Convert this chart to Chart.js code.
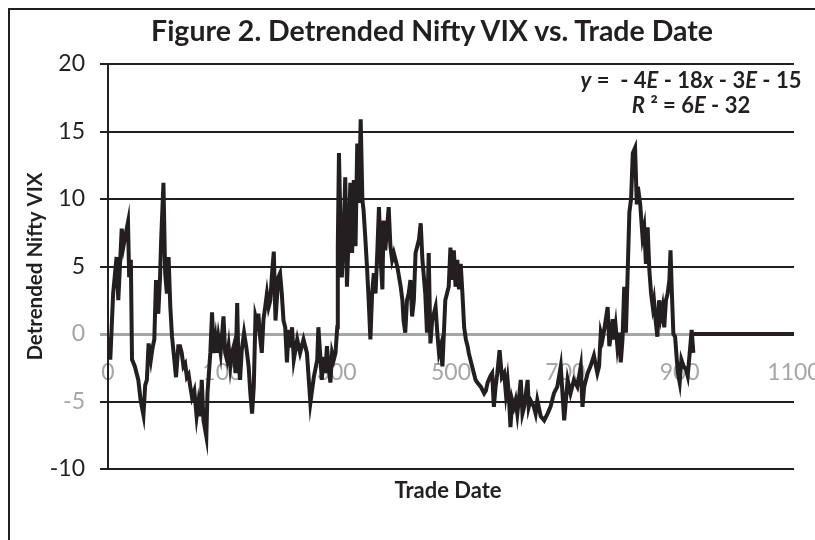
<!DOCTYPE html>
<html>
<head>
<meta charset="utf-8">
<script src="https://cdn.jsdelivr.net/npm/chart.js@4.4.0/dist/chart.umd.min.js"></script>
<style>
html, body { margin: 0; padding: 0; background: #fff; }
#wrap { position: relative; width: 815px; height: 540px; overflow: hidden; font-family: Lato, "Open Sans", sans-serif; color: #231f20; }
#frame { position: absolute; left: 8px; top: 8px; width: 900px; height: 700px; border: 2px solid #231f20; box-sizing: border-box; }
#c { position: absolute; left: 0; top: 0; }
.txt { position: absolute; white-space: nowrap; transform: translateX(-50%); font-weight: bold; }
#title { left: 432px; top: 13px; font-size: 28.5px; line-height: 34px; }
#eq1 { left: 691px; top: 67px; font-size: 22px; line-height: 26px; }
#eq2 { left: 691px; top: 92px; font-size: 22px; line-height: 26px; }
#xtitle { left: 448px; top: 477px; font-size: 22px; line-height: 26px; }
</style>
</head>
<body>
<div id="wrap">
  <div id="frame"></div>
  <canvas id="c" width="815" height="540"></canvas>
  <div class="txt" id="title">Figure 2. Detrended Nifty VIX vs. Trade Date</div>
  <div class="txt" id="eq1"><i>y</i> =&nbsp; - 4<i>E</i> - 18<i>x</i> - 3<i>E</i> - 15</div>
  <div class="txt" id="eq2"><i>R</i> ² = 6<i>E</i> - 32</div>
  <div class="txt" id="xtitle">Trade Date</div>
</div>
<script>
// trade date index (x) and detrended VIX (y)
const dayIdx = [0,4,9,15,18,24,27,30,35,37,40,42,47,53,57,62,65,68,71,75,78,81,84,88,91,93,97,100,103,106,109,112,116,119,123,126,129,132,135,138,141,144,147,151,155,158,161,164,167,172,174,179,182,185,188,190,193,197,202,205,208,211,214,217,220,223,226,228,231,234,238,242,246,249,252,255,258,261,263,266,269,272,275,278,281,284,287,290,293,296,298,301,304,307,310,313,316,319,322,325,331,336,342,348,354,360,366,368,371,374,377,380,383,386,389,392,395,398,401,402,404,407,409,412,415,418,421,424,427,430,433,436,439,442,445,447,450,453,456,459,462,465,468,471,474,477,480,482,485,488,491,494,497,500,506,512,515,517,520,523,526,529,532,535,538,541,544,547,550,552,555,558,561,564,567,570,573,576,579,582,585,588,590,593,596,599,602,605,608,611,614,617,620,623,626,629,631,634,637,640,643,646,652,658,661,664,669,672,675,678,681,685,689,693,696,699,701,704,707,710,713,716,719,722,725,728,734,736,739,745,748,751,757,763,769,774,780,786,792,798,804,809,815,821,827,830,833,839,844,850,856,859,862,865,868,874,877,880,883,885,888,891,894,897,900,903,906,909,912,915,918,922,925,927,931,935,938,941,944,947,950,953,955,958,961,964,967,970,973,976,979,982,984,986,989,992,995,997,1000,1003,1007,1011,1014,1018,1021,1024];
const vixVals = [-0.2,-1.9,3.0,5.7,2.5,7.8,6.5,7.2,8.3,4.2,5.5,-1.9,-2.4,-3.4,-4.9,-6.0,-3.8,-3.4,-0.7,-1.9,-1.0,-0.4,4.0,1.5,4.2,7.0,11.2,4.5,3.0,5.7,2.0,-0.2,-1.9,-3.2,-0.9,-0.9,-1.4,-2.4,-2.2,-3.2,-3.0,-3.9,-4.7,-4.2,-6.1,-5.1,-6.1,-3.4,-6.4,-7.6,-4.4,-1.4,1.6,-1.4,-0.4,-1.4,-0.2,-1.4,1.3,-1.4,-1.9,-0.9,-2.4,-1.4,-0.9,-2.9,2.3,-1.9,-3.4,-1.2,0.1,-1.0,-2.4,-4.4,-5.9,-3.9,1.3,0.8,1.5,-0.2,-1.4,1.1,2.0,3.0,2.0,2.5,4.5,6.1,1.0,3.0,4.2,4.5,3.0,1.0,0.5,-2.1,0.3,-1.0,0.5,-1.9,-0.4,-1.4,-0.4,-1.4,-5.1,-3.2,-1.9,0.5,-1.4,-3.4,-1.7,-2.9,-0.9,-2.4,-3.6,-1.4,-1.9,-1.4,0.5,6.5,13.4,7.5,4.2,7.0,11.6,3.5,7.4,11.2,6.0,11.4,6.5,14.1,9.7,15.9,9.9,9.2,7.2,5.0,2.5,-0.4,3.0,4.5,3.0,6.0,9.4,5.5,3.3,8.4,6.2,7.7,9.4,6.5,5.5,6.0,5.0,3.5,2.5,1.0,0.1,2.5,3.0,4.0,1.3,2.5,6.0,6.5,7.0,8.2,5.5,4.5,3.0,0.1,6.0,-0.7,1.0,1.5,2.0,0.1,-1.4,-0.9,-2.4,0.5,2.5,3.0,3.5,6.4,4.0,6.2,3.5,5.5,3.3,5.2,3.0,0.5,-0.4,-0.9,-1.4,-1.9,-2.4,-2.9,-3.4,-3.6,-3.9,-4.4,-4.2,-3.6,-3.1,-2.9,-5.4,-3.9,-2.9,-1.2,-3.2,-2.9,-4.4,-3.4,-4.4,-6.9,-4.9,-5.4,-4.9,-5.9,-4.7,-3.4,-5.9,-5.4,-3.4,-5.4,-4.9,-5.4,-5.9,-4.9,-6.1,-6.4,-5.9,-5.4,-4.4,-3.9,-2.4,-6.4,-3.4,-4.4,-3.4,-3.9,-2.4,-5.4,-3.9,-2.9,-2.4,-1.6,-2.9,-2.4,0.1,-0.4,0.3,2.0,-0.9,0.1,1.1,-0.4,0.6,-0.9,0.1,-2.1,-0.4,3.5,0.1,4.5,9.0,10.0,13.4,13.8,9.6,10.9,9.6,7.2,7.9,5.2,7.9,4.7,3.0,2.0,2.5,1.0,-0.2,2.5,1.3,2.0,0.5,2.5,3.0,4.0,6.2,3.5,0.0,-0.2,-1.9,-2.9,-3.6,-1.9,-2.4,-2.6,-3.1,-1.2,0.3,-1.4];

// linear trend line (y ~ 0), extended forward past the last point
const trendX = [1024, 1200];
const trendY = [0, 0];

const xTickLabels = ['0', '100', '300', '500', '700', '900', '1100'];
const yTicks = { min: -10, max: 20, step: 5 };

const ink = '#231f20';
const grey = '#a6a6a6';
const fam = 'Lato, "Open Sans", sans-serif';

const pts = dayIdx.map((d, i) => ({ x: d, y: vixVals[i] }));
const trend = trendX.map((d, i) => ({ x: d, y: trendY[i] }));

new Chart(document.getElementById('c'), {
  type: 'line',
  data: {
    datasets: [
      { data: pts, borderColor: ink, borderWidth: 4, pointRadius: 0, tension: 0, order: 2 },
      { data: trend, borderColor: ink, borderWidth: 4, pointRadius: 0, order: 1 }
    ]
  },
  options: {
    responsive: false,
    animation: false,
    layout: { padding: { top: 64, right: 21, bottom: 71, left: 0 } },
    plugins: { legend: { display: false }, tooltip: { enabled: false } },
    scales: {
      x: {
        type: 'linear',
        position: 'bottom',
        min: 0, max: 1200,
        ticks: {
          // mirrored so the labels sit up under the zero line, like the original
          stepSize: 200, autoSkip: false, maxRotation: 0, mirror: true, padding: 83,
          color: grey, font: { family: fam, size: 23 },
          callback: (v, i) => xTickLabels[i]
        },
        grid: { display: false },
        border: { display: false },
        afterFit: s => { s.height = 0; s.paddingLeft = 0; s.paddingRight = 0; }
      },
      y: {
        min: yTicks.min, max: yTicks.max,
        ticks: {
          stepSize: yTicks.step, padding: 15,
          font: { family: fam, size: 23 },
          color: c => (c.tick && (c.tick.value === 0 || c.tick.value === -5)) ? grey : ink
        },
        grid: {
          color: c => (c.tick && c.tick.value === 0) ? grey : ink,
          lineWidth: c => (c.tick && c.tick.value === 0) ? 3 : 2,
          tickLength: 8
        },
        border: { color: ink, width: 2 },
        title: {
          display: true, text: 'Detrended Nifty VIX', color: ink,
          font: { family: fam, size: 20.5, weight: 'bold' }, padding: { top: 23, bottom: 0 }
        },
        afterFit: s => { s.width = 108; }
      }
    }
  }
});
</script>
</body>
</html>
